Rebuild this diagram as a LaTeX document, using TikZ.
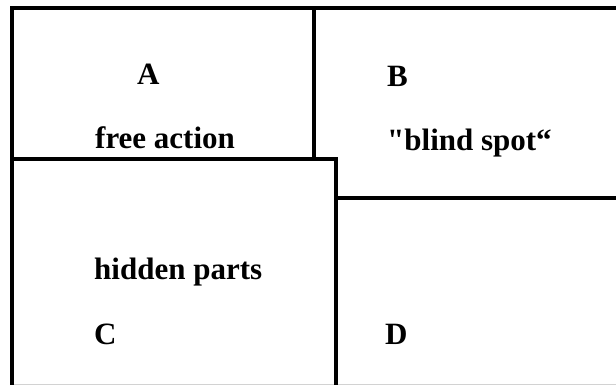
\documentclass[tikz,border=0pt]{standalone}
\usepackage{fontspec}
\setmainfont{Liberation Serif}
\newfontfamily\lblfont{Liberation Serif}
\begin{document}
\begin{tikzpicture}[x=1pt,y=-1pt,
  frame/.style={line width=4pt,line join=miter},
  divider/.style={line width=3.5pt,line join=miter},
  lbl/.style={anchor=base west,inner sep=0pt,font=\lblfont\fontsize{31}{34}\selectfont\bfseries}]
\useasboundingbox[fill=white] (0,0) rectangle (616,385);
% corners
\coordinate (tl) at (12,8);
\coordinate (tr) at (616,8);
\coordinate (bl) at (12,385);
\coordinate (vtop) at (314,8);
\coordinate (vbot) at (314,159);
\coordinate (cl) at (12,159);
\coordinate (cr) at (336,159);
\coordinate (cb) at (336,385);
\coordinate (dl) at (336,198);
\coordinate (dr) at (616,198);
% faint bottom edge
\draw[gray!35,line width=1pt] (12,384.3) -- (616,384.3);
% frame
\draw[frame] (tr) -- (tl) -- (bl);
\draw[divider] (vtop) -- (vbot);
\draw[divider] (cl) -- (cr) -- (cb);
\draw[divider] (dl) -- (dr);
% labels
\node[lbl] (A) at (137,85) {A};
\node[lbl] (fa) at (95,149) {free action};
\node[lbl] (B) at (387,87) {B};
\node[lbl] (bs) at (387,150) {"blind spot“};
\node[lbl] (hp) at (94,279) {hidden parts};
\node[lbl] (C) at (94,344) {C};
\node[lbl] (D) at (385,344) {D};
\end{tikzpicture}
\end{document}
